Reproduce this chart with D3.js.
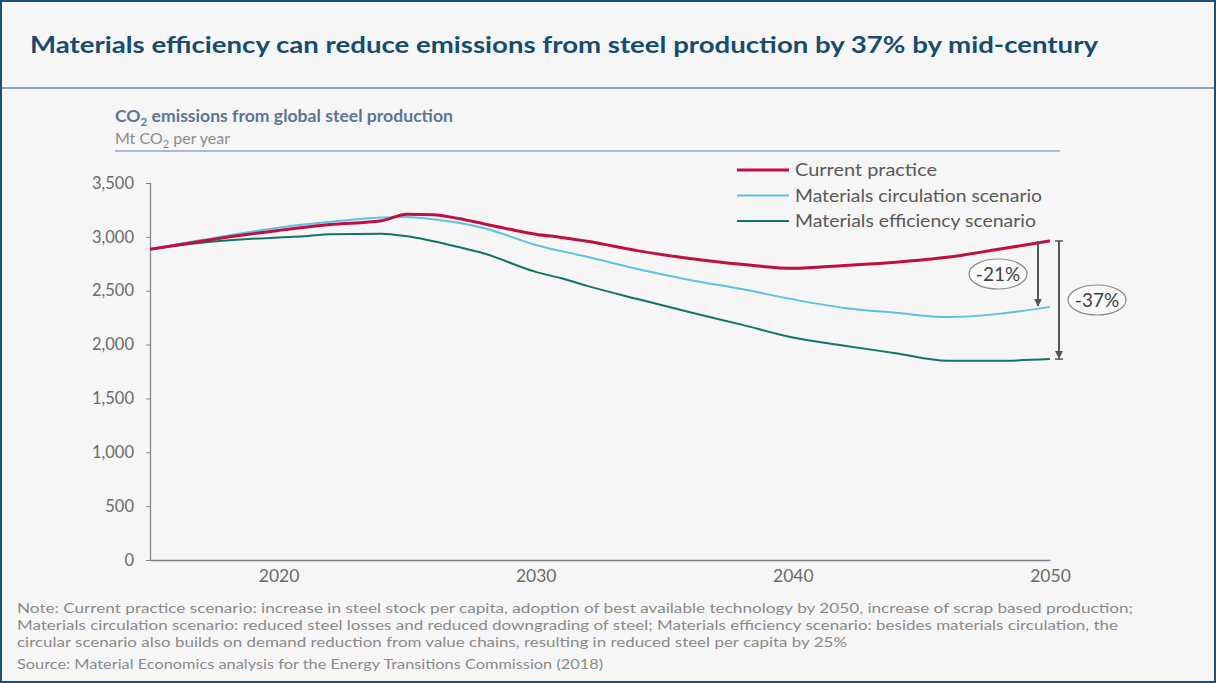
<!DOCTYPE html>
<html><head><meta charset="utf-8">
<script src="https://cdn.jsdelivr.net/npm/d3@7"></script>
<style>
html,body{margin:0;padding:0;background:#f6f6f6;}
svg{display:block;}
text{font-family:"Lato","Open Sans",sans-serif;}
</style></head>
<body><svg id="c" width="1216" height="683"></svg>
<script>
// ---- data ----
const title = "Materials efficiency can reduce emissions from steel production by 37% by mid-century";
const seriesNames = ["Current practice","Materials circulation scenario","Materials efficiency scenario"];
const currentYears = [2015,2017,2020,2022,2024,2025,2026,2027,2028,2029,2030,2031,2032,2034,2036,2038,2040,2042,2044,2046,2048,2050];
const currentVals  = [2885,2960,3060,3115,3150,3210,3205,3170,3120,3070,3025,2995,2960,2870,2800,2745,2708,2735,2765,2810,2885,2962];
const circYears = [2015,2017,2020,2022,2024,2025,2026,2027,2028,2030,2032,2034,2036,2038,2040,2042,2044,2046,2048,2050];
const circVals  = [2885,2970,3085,3140,3180,3185,3163,3130,3080,2925,2815,2700,2600,2515,2420,2340,2295,2255,2285,2350];
const effYears = [2015,2017,2020,2021,2022,2024,2025,2027,2028,2030,2031,2032,2034,2036,2038,2040,2042,2044,2046,2048,2050];
const effVals  = [2885,2945,2995,3005,3025,3030,3005,2905,2845,2675,2615,2545,2420,2300,2185,2065,1990,1920,1850,1850,1865];
const yTicks = [0,500,1000,1500,2000,2500,3000,3500];
const xTicks = [2020,2030,2040,2050];
const annotations = ["-21%","-37%"];
const noteLines = [
 "Note: Current practice scenario:  increase in steel stock per capita, adoption of best available technology by 2050, increase of scrap based production;",
 "Materials circulation scenario: reduced steel losses and reduced downgrading of steel; Materials efficiency  scenario: besides materials circulation, the",
 "circular scenario also builds on demand reduction from value chains, resulting in reduced steel per capita by 25%"
];
const sourceLine = "Source: Material Economics analysis for the Energy Transitions Commission  (2018)";

const colors = ["#c0103f","#5ec0e6","#0f7566"];
const widths = [3,2,2];
const legendW = [142,247,241];

const svg = d3.select("#c");
svg.append("rect").attr("width",1216).attr("height",683).attr("fill","#f6f6f6");
// frame
svg.append("rect").attr("x",1).attr("y",1).attr("width",1214).attr("height",681)
  .attr("fill","none").attr("stroke","#1f4e79").attr("stroke-width",2);
svg.append("line").attr("x1",2).attr("x2",1214).attr("y1",88).attr("y2",88).attr("stroke","#6d8a9c").attr("stroke-width",1.5);

svg.append("text").attr("x",30).attr("y",53).text(title)
  .attr("font-size",22).attr("font-weight","bold").attr("fill","#174c6e")
  .attr("textLength",1068).attr("lengthAdjust","spacingAndGlyphs");

// subtitle
const st = svg.append("text").attr("x",115).attr("y",122).attr("font-size",17.6).attr("font-weight","bold").attr("fill","#5b7595");
st.append("tspan").text("CO");
st.append("tspan").text("2").attr("font-size",11.5).attr("dy",4);
st.append("tspan").text(" emissions from global steel production").attr("dy",-4);
const st2 = svg.append("text").attr("x",115).attr("y",144).attr("font-size",16).attr("fill","#8c8c8c");
st2.append("tspan").text("Mt CO");
st2.append("tspan").text("2").attr("font-size",11).attr("dy",4);
st2.append("tspan").text(" per year").attr("dy",-4);
svg.append("line").attr("x1",115).attr("x2",1060).attr("y1",151).attr("y2",151).attr("stroke","#8fa5c0").attr("stroke-width",1.5);

// scales
const x = d3.scaleLinear().domain([2015,2050]).range([150,1050]);
const y = d3.scaleLinear().domain([0,3500]).range([560,183]);

const yAxis = svg.append("g").attr("transform","translate(150,0)")
  .call(d3.axisLeft(y).tickValues(yTicks).tickFormat(d3.format(",")).tickSize(4).tickPadding(12));
yAxis.select(".domain").attr("stroke","#808080").attr("stroke-width",1.2);
yAxis.selectAll(".tick line").attr("stroke","#808080");
yAxis.selectAll("text").attr("font-size",16.5).attr("fill","#6b6b6b").attr("font-family","Lato,sans-serif");

const xAxis = svg.append("g").attr("transform","translate(0,560)")
  .call(d3.axisBottom(x).tickValues(xTicks).tickFormat(d3.format("d")).tickSize(0).tickPadding(10));
xAxis.select(".domain").attr("stroke","#808080").attr("stroke-width",1.5);
xAxis.selectAll("text").attr("font-size",17.5).attr("fill","#6b6b6b").attr("font-family","Lato,sans-serif");

const line = d3.line().x(d=>x(d[0])).y(d=>y(d[1])).curve(d3.curveMonotoneX);
const series = [
  d3.zip(currentYears,currentVals),
  d3.zip(circYears,circVals),
  d3.zip(effYears,effVals)
];
[2,1,0].forEach(i=>{
  svg.append("path").datum(series[i]).attr("d",line).attr("fill","none")
    .attr("stroke",colors[i]).attr("stroke-width",widths[i]).attr("stroke-linejoin","round");
});

// legend
seriesNames.forEach((n,i)=>{
  const yy = 170 + i*25.5;
  svg.append("line").attr("x1",737).attr("x2",789).attr("y1",yy).attr("y2",yy)
    .attr("stroke",colors[i]).attr("stroke-width",widths[i]);
  svg.append("text").attr("x",795).attr("y",yy+6).text(n).attr("font-size",17.5).attr("fill","#595959")
    .attr("textLength",legendW[i]).attr("lengthAdjust","spacingAndGlyphs");
});

// arrows
const defs = svg.append("defs");
defs.append("marker").attr("id","ah").attr("viewBox","0 0 10 10").attr("refX",9).attr("refY",5)
  .attr("markerWidth",4).attr("markerHeight",5).attr("orient","auto")
  .append("path").attr("d","M0,0 L10,5 L0,10 z").attr("fill","#555");
const endC = currentVals[currentVals.length-1];
const endM = circVals[circVals.length-1];
const endE = effVals[effVals.length-1];
svg.append("line").attr("x1",1038).attr("x2",1038).attr("y1",y(endC)).attr("y2",y(endM)-1)
  .attr("stroke","#555").attr("stroke-width",2).attr("marker-end","url(#ah)");
svg.append("line").attr("x1",1059).attr("x2",1059).attr("y1",y(endC)).attr("y2",y(endE)-1)
  .attr("stroke","#555").attr("stroke-width",2).attr("marker-end","url(#ah)");
svg.append("line").attr("x1",1055).attr("x2",1063).attr("y1",y(endC)).attr("y2",y(endC)).attr("stroke","#555").attr("stroke-width",1.5);
svg.append("line").attr("x1",1055).attr("x2",1063).attr("y1",y(endE)).attr("y2",y(endE)).attr("stroke","#555").attr("stroke-width",1.5);

[[998,274,annotations[0]],[1097,300,annotations[1]]].forEach(a=>{
  svg.append("ellipse").attr("cx",a[0]).attr("cy",a[1]).attr("rx",29).attr("ry",15)
    .attr("fill","#fafafa").attr("stroke","#8a8a8a").attr("stroke-width",1.2);
  svg.append("text").attr("x",a[0]).attr("y",a[1]+6.5).attr("text-anchor","middle").text(a[2])
    .attr("font-size",19).attr("fill","#404040");
});

// notes
const noteW = [1116,1101,830];
noteLines.forEach((t,i)=>{
  svg.append("text").attr("x",17).attr("y",613+i*17).text(t).attr("font-size",13.5).attr("fill","#8a8a8a")
    .attr("textLength",noteW[i]).attr("lengthAdjust","spacingAndGlyphs");
});
svg.append("text").attr("x",17).attr("y",669).text(sourceLine).attr("font-size",13.5).attr("fill","#8a8a8a")
  .attr("textLength",586).attr("lengthAdjust","spacingAndGlyphs");
</script></body></html>
